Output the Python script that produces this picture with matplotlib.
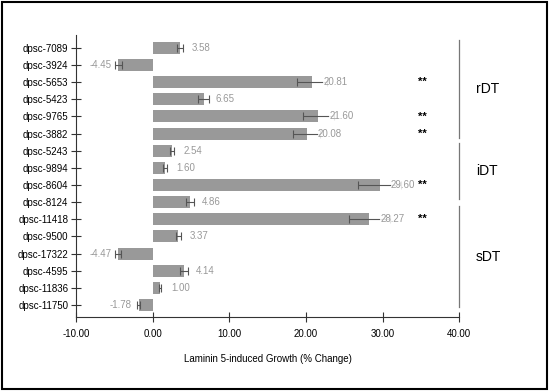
import matplotlib.pyplot as plt
import matplotlib.patches as mpatches

plt.rcParams['font.family'] = ['Liberation Sans', 'DejaVu Sans']

labels = ["dpsc-7089", "dpsc-3924", "dpsc-5653", "dpsc-5423", "dpsc-9765", "dpsc-3882",
          "dpsc-5243", "dpsc-9894", "dpsc-8604", "dpsc-8124",
          "dpsc-11418", "dpsc-9500", "dpsc-17322", "dpsc-4595", "dpsc-11836", "dpsc-11750"]
values = [3.58, -4.45, 20.81, 6.65, 21.60, 20.08,
          2.54, 1.60, 29.60, 4.86,
          28.27, 3.37, -4.47, 4.14, 1.00, -1.78]
errors = [0.4, 0.5, 2.0, 0.7, 2.0, 1.7,
          0.3, 0.3, 2.8, 0.5,
          2.7, 0.35, 0.4, 0.5, 0.15, 0.2]
signif = ["dpsc-5653", "dpsc-9765", "dpsc-3882", "dpsc-8604", "dpsc-11418"]
groups = [("rDT", -0.45, 5.25), ("iDT", 5.55, 8.8), ("sDT", 9.25, 15.1)]

fig = plt.figure(figsize=(5.5, 3.92), dpi=100)
ax = fig.add_axes([0.138, 0.191, 0.697, 0.72])

ypos = list(range(len(labels)))
ax.barh(ypos, values, height=0.7, color="#999999", zorder=2)
ax.errorbar(values, ypos, xerr=errors, fmt="none", ecolor="#555555",
            elinewidth=0.8, capsize=3, capthick=0.8, zorder=3)

for y, v in zip(ypos, values):
    box = dict(facecolor="white", edgecolor="none", alpha=0.85, pad=0.3)
    if v >= 0:
        ax.text(v + 1.5, y, "%.2f" % v, ha="left", va="center", fontsize=7,
                color="#999999", bbox=box, zorder=4)
    else:
        ax.text(v - 0.9, y, "%.2f" % v, ha="right", va="center", fontsize=7,
                color="#999999", bbox=box, zorder=4)
    if labels[y] in signif:
        ax.text(35.2, y, "**", ha="center", va="center", fontsize=8, fontweight="bold")

for name, y0, y1 in groups:
    ax.plot([40, 40], [y0, y1], color="#777777", lw=0.9, clip_on=False)
    ax.text(42.2, (y0 + y1) / 2, name, ha="left", va="center", fontsize=10)

ax.set_xlim(-10, 40)
ax.set_ylim(15.7, -0.75)
ax.set_yticks(ypos)
ax.set_yticklabels(labels, fontsize=7)
ax.set_xticks([-10, 0, 10, 20, 30, 40])
ax.set_xticklabels(["%.2f" % t for t in [-10, 0, 10, 20, 30, 40]], fontsize=7)
ax.tick_params(direction="inout", length=7, width=0.8, color="#333333")
ax.tick_params(axis="y", pad=2)
ax.tick_params(axis="x", pad=5)
ax.spines["top"].set_visible(False)
ax.spines["right"].set_visible(False)
ax.spines["left"].set_color("#333333")
ax.spines["bottom"].set_color("#333333")
ax.set_xlabel("Laminin 5-induced Growth (% Change)", fontsize=7, labelpad=11)

fig.patches.append(mpatches.Rectangle((0.004, 0.008), 0.991, 0.986, transform=fig.transFigure,
                                      fill=False, edgecolor="black", lw=1.5))

plt.savefig("out.png", dpi=100)
